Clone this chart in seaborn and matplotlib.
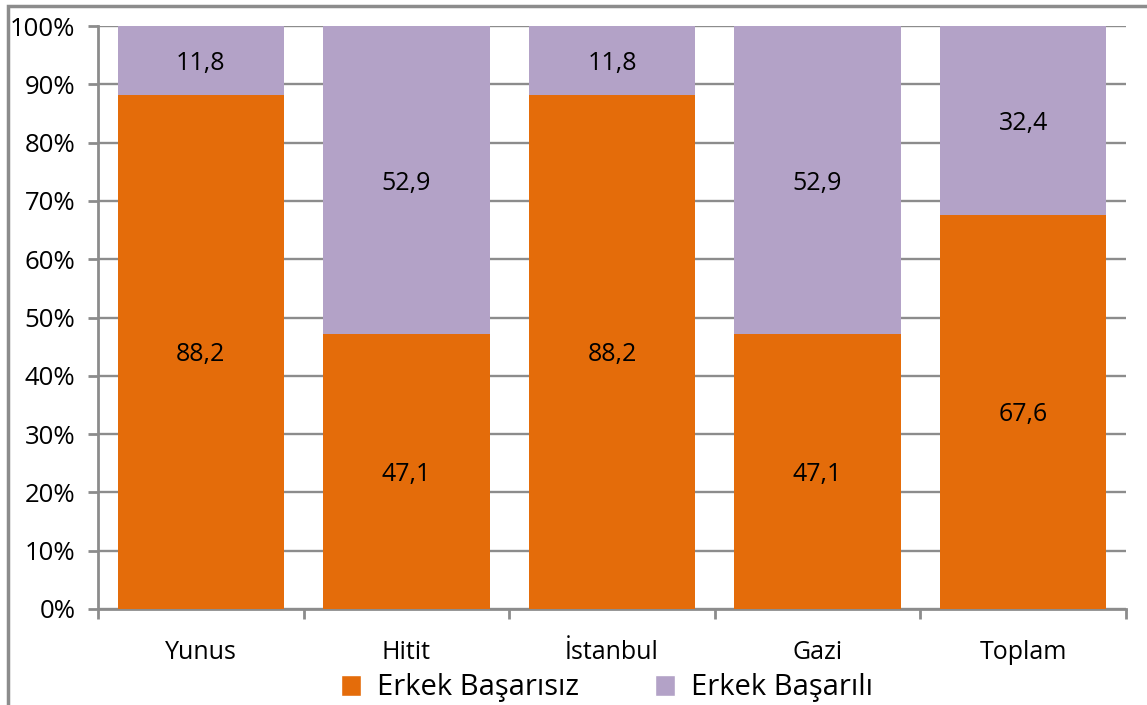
import matplotlib
matplotlib.use("Agg")
import matplotlib.pyplot as plt
from matplotlib.patches import Rectangle, Patch
from matplotlib.ticker import FuncFormatter, MultipleLocator
import seaborn as sns
import pandas as pd

categories = ["Yunus", "Hitit", "İstanbul", "Gazi", "Toplam"]
basarisiz = [88.2, 47.1, 88.2, 47.1, 67.6]
basarili = [11.8, 52.9, 11.8, 52.9, 32.4]

ORANGE = "#E46C0A"
PURPLE = "#B3A2C7"
GRID = "#8C8C8C"

sns.set_theme(style="white")
plt.rcParams["font.family"] = ["Open Sans", "DejaVu Sans"]
plt.rcParams["text.color"] = "black"
plt.rcParams["xtick.color"] = "black"
plt.rcParams["ytick.color"] = "black"

df = pd.DataFrame({"okul": categories, "basarisiz": basarisiz, "basarili": basarili})
df["toplam"] = df["basarisiz"] + df["basarili"]

fig = plt.figure(figsize=(11.47, 7.05), dpi=100)
ax = fig.add_axes([98 / 1147, 1 - 609 / 705, 1028 / 1147, 583 / 705])

sns.barplot(data=df, x="okul", y="toplam", color=PURPLE, width=0.81,
            saturation=1, linewidth=0, ax=ax, zorder=2)
sns.barplot(data=df, x="okul", y="basarisiz", color=ORANGE, width=0.81,
            saturation=1, linewidth=0, ax=ax, zorder=3)

for i, (a, b) in enumerate(zip(basarisiz, basarili)):
    ax.text(i, a / 2, f"{a:.1f}".replace(".", ","), ha="center",
            va="center_baseline", fontsize=18, color="black", zorder=4)
    ax.text(i, a + b / 2, f"{b:.1f}".replace(".", ","), ha="center",
            va="center_baseline", fontsize=18, color="black", zorder=4)

ax.set_xlim(-0.5, len(categories) - 0.5)
ax.set_ylim(0, 100)
ax.yaxis.set_major_locator(MultipleLocator(10))
ax.yaxis.set_major_formatter(FuncFormatter(lambda v, p: f"{v:.0f}%"))
ax.yaxis.grid(True, color=GRID, linewidth=1.7, zorder=1)
ax.set_axisbelow(True)
ax.set_xlabel("")
ax.set_ylabel("")

for s in ["top", "right"]:
    ax.spines[s].set_visible(False)
for s in ["left", "bottom"]:
    ax.spines[s].set_color(GRID)
    ax.spines[s].set_linewidth(2)

ax.tick_params(axis="y", which="major", left=True, length=7.2, width=2,
               color=GRID, labelsize=18.5, labelcolor="black", pad=9)
ax.set_xticks(range(len(categories)))
ax.set_xticklabels(categories)
ax.tick_params(axis="x", which="major", bottom=False, labelsize=18,
               labelcolor="black", pad=16)
ax.set_xticks([i - 0.5 for i in range(len(categories) + 1)], minor=True)
ax.tick_params(axis="x", which="minor", bottom=True, length=7.2, width=2, color=GRID)

handles = [Patch(facecolor=ORANGE, label="Erkek Başarısız"),
           Patch(facecolor=PURPLE, label="Erkek Başarılı")]
fig.legend(handles=handles, loc="center", bbox_to_anchor=(607 / 1147, 1 - 688 / 705),
           ncol=2, frameon=False, fontsize=21, handlelength=0.7, handleheight=0.7,
           handletextpad=0.55, columnspacing=2.6, borderpad=0)

# outer chart frame
fig.patches.append(Rectangle((8 / 1147, -0.1), 1.2, 1 - 6 / 705 + 0.1,
                             transform=fig.transFigure, fill=False,
                             edgecolor="#8C8C8C", linewidth=2.5))

fig.savefig("out.png", dpi=100)
